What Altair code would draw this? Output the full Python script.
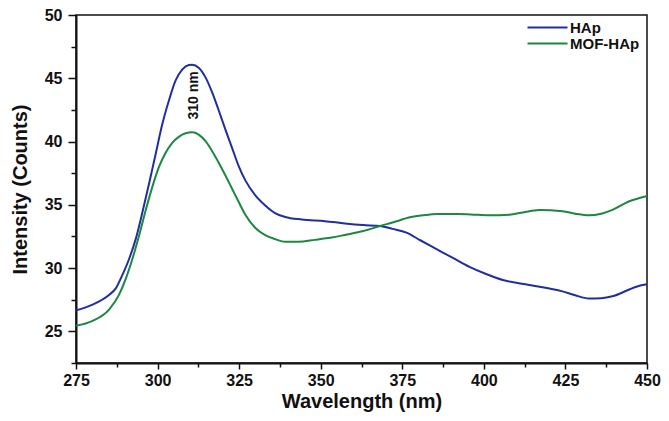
import altair as alt
import pandas as pd

series_names = ["HAp", "MOF-HAp"]
series_colors = ["#1f2f9e", "#1c8740"]

wl_hap = [275, 280.1, 285.2, 287.2, 289.2, 291.3, 293.3, 295.3, 297.4, 299.4, 301.4, 303.5,
          305.5, 307.6, 309.6, 310.6, 312.6, 314.7, 316.7, 318.7, 320.8, 322.8, 324.8, 326.9,
          329.9, 333.0, 336.0, 339.1, 344.2, 351.3, 357.4, 363, 368.2, 372, 376.3, 380.5,
          385.5, 390.5, 395.6, 400.5, 405.8, 413.9, 424.1, 428, 432.2, 436, 439.4, 444.4,
          447, 450]
int_hap = [26.66, 27.12, 27.9, 28.4, 29.45, 30.74, 32.29, 34.35, 36.68, 39.0, 41.32, 43.26,
           44.81, 45.71, 46.05, 46.07, 45.84, 45.07, 43.9, 42.49, 40.94, 39.52, 38.1, 36.93,
           35.77, 34.95, 34.35, 34.04, 33.84, 33.71, 33.53, 33.4, 33.32, 33.1, 32.8, 32.2,
           31.5, 30.8, 30.1, 29.55, 29.06, 28.67, 28.16, 27.85, 27.6, 27.62, 27.77, 28.29,
           28.55, 28.72]

wl_mof = [275, 280.1, 285.2, 288.2, 290.3, 292.3, 294.3, 296.4, 298.4, 300.4, 302.5, 304.5,
          306.5, 308.6, 310.6, 312.6, 314.7, 316.7, 318.7, 320.8, 322.8, 324.8, 326.9, 329.9,
          333.0, 336.0, 339.1, 343.2, 348.2, 353.3, 357.4, 363.1, 368.2, 373.3, 377, 381.4,
          386, 391.6, 396, 401.7, 407.8, 412, 417, 424.1, 428, 432.2, 436, 439.4, 444.4, 450]
int_mof = [25.44, 25.83, 26.74, 27.9, 29.19, 30.74, 32.54, 34.61, 36.42, 37.97, 39.13, 39.9,
           40.37, 40.65, 40.73, 40.55, 40.03, 39.26, 38.35, 37.32, 36.29, 35.26, 34.22, 33.19,
           32.6, 32.29, 32.08, 32.08, 32.23, 32.41, 32.62, 32.93, 33.32, 33.7, 34.0, 34.17,
           34.27, 34.28, 34.24, 34.17, 34.22, 34.4, 34.6, 34.5, 34.3, 34.17, 34.3, 34.6,
           35.26, 35.7]

x_ticks = [275, 287.5, 300, 312.5, 325, 337.5, 350, 362.5, 375, 387.5, 400, 412.5, 425, 437.5, 450]
y_ticks = [22.5, 25, 27.5, 30, 32.5, 35, 37.5, 40, 42.5, 45, 47.5, 50]

annot_text = ["310 nm"]
annot_x = [311.1]
annot_y = [43.65]

df = pd.concat([
    pd.DataFrame({"wl": wl_hap, "intensity": int_hap, "series": series_names[0]}),
    pd.DataFrame({"wl": wl_mof, "intensity": int_mof, "series": series_names[1]}),
])
ann = pd.DataFrame({"wl": annot_x, "intensity": annot_y, "label": annot_text})

FONT = "Liberation Sans"

x_scale = alt.Scale(domain=[275, 450], nice=False, zero=False)
y_scale = alt.Scale(domain=[22.5, 50], nice=False, zero=False)

x_axis = alt.Axis(values=x_ticks, labelOverlap=False, labelFlush=False,
                  labelExpr="(datum.value % 25 === 0) ? format(datum.value, 'd') : ''",
                  tickSize={"condition": {"test": "datum.value % 25 !== 0", "value": 4}, "value": 6},
                  labelPadding=3, titlePadding=3)
y_axis = alt.Axis(values=y_ticks, labelOverlap=False, labelFlush=False,
                  labelExpr="(datum.value % 5 === 0) ? format(datum.value, 'd') : ''",
                  tickSize={"condition": {"test": "datum.value % 5 !== 0", "value": 5}, "value": 8},
                  labelPadding=6, titlePadding=14)

lines = alt.Chart(df).mark_line(strokeWidth=2, interpolate="monotone").encode(
    x=alt.X("wl:Q", scale=x_scale, title="Wavelength (nm)", axis=x_axis),
    y=alt.Y("intensity:Q", scale=y_scale, title="Intensity (Counts)", axis=y_axis),
    color=alt.Color("series:N", scale=alt.Scale(domain=series_names, range=series_colors),
                    legend=alt.Legend(title=None, orient="none", legendX=464, legendY=5,
                                      symbolType="M-4,0H4", symbolSize=100, symbolStrokeWidth=2,
                                      labelFont=FONT, labelFontSize=15, labelFontWeight="bold",
                                      labelColor="#111", rowPadding=0, labelOffset=15)),
)

text = alt.Chart(ann).mark_text(angle=270, font=FONT, fontSize=14,
                                fontWeight="bold", color="#111").encode(
    x=alt.X("wl:Q", scale=x_scale, title="Wavelength (nm)", axis=x_axis),
    y=alt.Y("intensity:Q", scale=y_scale, title="Intensity (Counts)", axis=y_axis),
    text="label:N",
)

chart = alt.layer(lines, text).properties(
    width=571, height=348,
    autosize=alt.AutoSizeParams(type="none"),
    padding={"left": 68, "top": 7, "right": 14, "bottom": 50},
).configure_view(
    stroke="#111", strokeWidth=1.5
).configure_axis(
    domainColor="#111", domainWidth=2, tickColor="#111", tickWidth=1.5,
    labelFont=FONT, labelFontSize=16, labelFontWeight="bold", labelColor="#111",
    titleFont=FONT, titleFontSize=20, titleFontWeight="bold", titleColor="#111",
    grid=False,
)

chart.save("out.html", embed_options={"renderer": "svg", "actions": False})
